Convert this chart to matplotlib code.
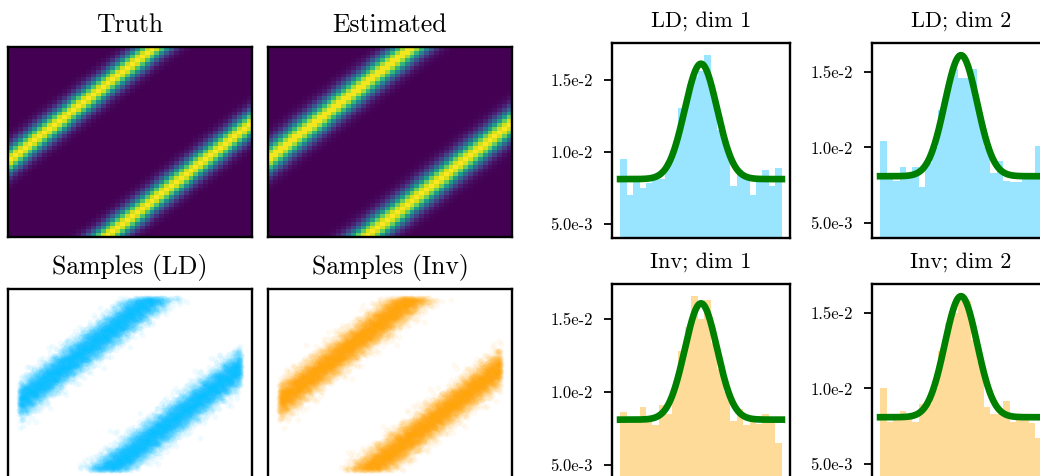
import numpy as np
import matplotlib
matplotlib.use("Agg")
import matplotlib.pyplot as plt

plt.rcParams['font.family'] = ['cmr10', 'DejaVu Serif']
plt.rcParams['axes.unicode_minus'] = False
plt.rcParams['axes.formatter.use_mathtext'] = True

# two diagonal bands, centre lines y = x + offset, vertical spread = width
truth_offsets = [0.40, -0.40]
truth_width = 0.05
est_offsets = [0.41, -0.40]
est_width = 0.055
sample_width = 0.055
grid_n = 50

# histogram heights, 25 equal bins on [0, 1]
ld_dim1 = [0.0095, 0.0070, 0.0081, 0.0075, 0.0078, 0.0081, 0.0081, 0.0093, 0.0104,
           0.0130, 0.0137, 0.0152, 0.0156, 0.0167, 0.0138, 0.0115, 0.0103, 0.0076,
           0.0087, 0.0082, 0.0070, 0.0082, 0.0087, 0.0076, 0.0089]
ld_dim2 = [0.0104, 0.0081, 0.0078, 0.0087, 0.0081, 0.0087, 0.0074, 0.0090, 0.0100,
           0.0125, 0.0138, 0.0152, 0.0146, 0.0146, 0.0152, 0.0119, 0.0100, 0.0083,
           0.0091, 0.0078, 0.0077, 0.0077, 0.0081, 0.0081, 0.0101]
inv_dim1 = [0.0086, 0.0079, 0.0081, 0.0090, 0.0081, 0.0077, 0.0091, 0.0085, 0.0103,
            0.0128, 0.0145, 0.0166, 0.0150, 0.0163, 0.0134, 0.0116, 0.0100, 0.0080,
            0.0088, 0.0077, 0.0081, 0.0078, 0.0085, 0.0080, 0.0065]
inv_dim2 = [0.0100, 0.0078, 0.0081, 0.0085, 0.0081, 0.0078, 0.0090, 0.0090, 0.0100,
            0.0125, 0.0143, 0.0150, 0.0158, 0.0158, 0.0132, 0.0118, 0.0088, 0.0083,
            0.0083, 0.0092, 0.0078, 0.0081, 0.0079, 0.0077, 0.0067]

# reference marginal: flat level with a bump in the middle
marg_base = 0.0081
marg_peak = 0.0161
marg_centre = 0.5
marg_sd = 0.10

ytick_vals = [5e-3, 1e-2, 1.5e-2]
ytick_labels = ['5.0e-3', '1.0e-2', '1.5e-2']

n_samples = 16000
ld_color = 'deepskyblue'
inv_color = 'orange'


def band_density(offsets, width, n):
    c = (np.arange(n) + 0.5) / n
    xx, yy = np.meshgrid(c, c)
    z = sum(np.exp(-0.5 * ((yy - xx - o) / width) ** 2) for o in offsets)
    return z / z.sum()


def halton(k, base):
    out = np.zeros(len(k))
    f = 1.0
    k = k.copy()
    while k.any():
        f /= base
        out += f * (k % base)
        k //= base
    return out


def band_samples(offsets, width, n, start):
    # Halton points (deterministic) pushed through Box-Muller
    k = np.arange(start, start + n)
    x = halton(k, 2)
    u1 = halton(k, 3)
    u2 = halton(k, 5)
    z = np.sqrt(-2 * np.log(u1)) * np.cos(2 * np.pi * u2)
    band = np.where(halton(k, 7) < 0.5, offsets[0], offsets[1])
    y = x + band + width * z
    keep = (y >= 0) & (y <= 1)
    return x[keep], y[keep]


W, H = 1040, 476
fig = plt.figure(figsize=(W / 100, H / 100), dpi=100)


def px_axes(x0, y0, x1, y1):
    return fig.add_axes([x0 / W, 1 - y1 / H, (x1 - x0) / W, (y1 - y0) / H])


def frame(ax, lw=1.7):
    for s in ax.spines.values():
        s.set_linewidth(lw)
        s.set_color('black')


# density images
for (x0, x1), title, offs, wid in [((8, 252), 'Truth', truth_offsets, truth_width),
                                   ((268, 512), 'Estimated', est_offsets, est_width)]:
    ax = px_axes(x0, 47, x1, 237)
    ax.imshow(band_density(offs, wid, grid_n), origin='lower', extent=[0, 1, 0, 1],
              aspect='auto', cmap='viridis')
    ax.set_xticks([])
    ax.set_yticks([])
    ax.set_title(title, fontsize=18.5, pad=10.5)
    frame(ax)

# sample clouds
for (x0, x1), title, col, start in [((8, 252), 'Samples (LD)', ld_color, 1),
                                    ((268, 512), 'Samples (Inv)', inv_color, 40001)]:
    ax = px_axes(x0, 289, x1, 479)
    sx, sy = band_samples(truth_offsets, sample_width, n_samples, start)
    ax.scatter(sx, sy, s=18, color=col, alpha=0.06, linewidths=0)
    ax.set_xticks([])
    ax.set_yticks([])
    ax.set_title(title, fontsize=18.5, pad=10.5)
    frame(ax)

# marginal histograms
edges = np.linspace(0, 1, 26)
centres = 0.5 * (edges[:-1] + edges[1:])
xs = np.linspace(0, 1, 400)
curve = marg_base + (marg_peak - marg_base) * np.exp(-0.5 * ((xs - marg_centre) / marg_sd) ** 2)

panels = [((612, 43, 790, 237.5), 'LD; dim 1', ld_dim1, ld_color),
          ((872, 43, 1050, 237.5), 'LD; dim 2', ld_dim2, ld_color),
          ((612, 284, 790, 478.5), 'Inv; dim 1', inv_dim1, inv_color),
          ((872, 284, 1050, 478.5), 'Inv; dim 2', inv_dim2, inv_color)]

for box, title, heights, col in panels:
    ax = px_axes(*box)
    ax.bar(centres, heights, width=edges[1] - edges[0], color=col, alpha=0.4, linewidth=0)
    ax.plot(xs, curve, color='green', lw=4.8)
    ax.set_ylim(0.5 * curve.min(), 1.05 * max(max(heights), curve.max()))
    ax.set_xticks([])
    ax.set_yticks(ytick_vals, ytick_labels)
    ax.tick_params(axis='y', length=6, width=1.3, pad=8, labelsize=12)
    ax.set_title(title, fontsize=16, pad=11.5)
    frame(ax)

fig.savefig('out.png', dpi=100)
